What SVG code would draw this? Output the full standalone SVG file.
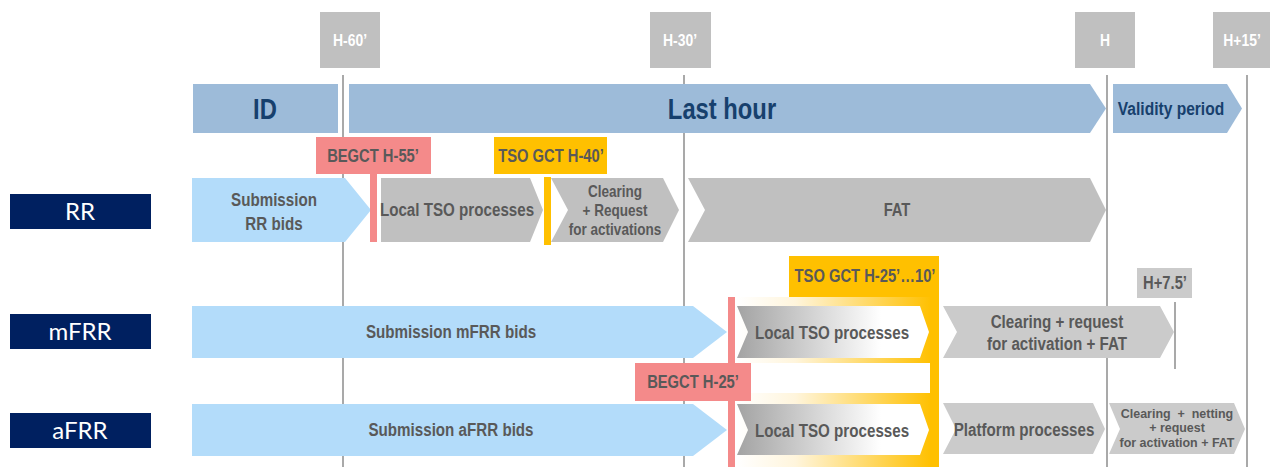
<svg xmlns="http://www.w3.org/2000/svg" width="1280" height="467" viewBox="0 0 1280 467">
<defs>
<style>
.n{font-family:"Liberation Sans",Arial,sans-serif;font-weight:bold;text-anchor:middle}
.g{fill:#595959}
.w{fill:#ffffff}
.b{fill:#17406d}
.tbox{fill:#c0c0c0}
.vline{stroke:#8c8c8c;stroke-width:1.5;fill:none}
.top{fill:#9dbbd9}
.sub{fill:#b3dcfa}
.grey{fill:#c0c0c0}
.grey2{fill:#cbcbcb}
.salmon{fill:#f48a8a}
.orange{fill:#ffc000}
.lab{fill:#002060}
.labt{font-family:Lato,"Noto Sans",sans-serif;font-size:24px;fill:#ffffff;text-anchor:middle}
</style>
<linearGradient id="ltso" x1="0" y1="0" x2="1" y2="0">
<stop offset="0" stop-color="#a3a3a3"/>
<stop offset="0.75" stop-color="#ffffff"/>
<stop offset="1" stop-color="#ffffff"/>
</linearGradient>
<linearGradient id="glow" x1="0" y1="0" x2="1" y2="0">
<stop offset="0" stop-color="#ffffff"/>
<stop offset="0.3" stop-color="#fff5dc"/>
<stop offset="1" stop-color="#ffc000"/>
</linearGradient>
</defs>
<rect width="1280" height="467" fill="#ffffff"/>

<g id="connectors">
<line class="vline" x1="343" y1="75" x2="343" y2="467"/>
<line class="vline" x1="684" y1="75" x2="684" y2="467"/>
<line class="vline" x1="1107" y1="75" x2="1107" y2="467"/>
<line class="vline" x1="1247" y1="75" x2="1247" y2="467"/>
<line class="vline" x1="1175" y1="302" x2="1175" y2="369"/>
</g>

<g id="time-markers">
<g id="t-h60"><rect class="tbox" x="320" y="12" width="60" height="56"/><text class="n w" transform="translate(350 46) scale(0.82 1)" font-size="17">H-60’</text></g>
<g id="t-h30"><rect class="tbox" x="650" y="12" width="61" height="56"/><text class="n w" transform="translate(680 46) scale(0.82 1)" font-size="17">H-30’</text></g>
<g id="t-h"><rect class="tbox" x="1075" y="12" width="60" height="56"/><text class="n w" transform="translate(1105 46) scale(0.82 1)" font-size="17">H</text></g>
<g id="t-h15"><rect class="tbox" x="1213" y="12" width="57" height="56"/><text class="n w" transform="translate(1242 46) scale(0.82 1)" font-size="17">H+15’</text></g>
</g>

<g id="id-bar"><rect class="top" x="193" y="84" width="145" height="49"/><text class="n b" transform="translate(265 119) scale(0.82 1)" font-size="29">ID</text></g>
<g id="last-hour"><polygon class="top" points="349,84 1090,84 1106,108.5 1090,133 349,133"/><text class="n b" transform="translate(722 119) scale(0.82 1)" font-size="29">Last hour</text></g>
<g id="validity"><polygon class="top" points="1113,84 1227,84 1242,108.5 1227,133 1113,133"/><text class="n b" transform="translate(1171 115) scale(0.82 1)" font-size="19">Validity period</text></g>

<g id="label-rr"><rect class="lab" x="10" y="194" width="141" height="35"/><text class="labt" x="80" y="220">RR</text></g>
<g id="label-mfrr"><rect class="lab" x="10" y="314" width="141" height="35"/><text class="labt" x="80" y="340">mFRR</text></g>
<g id="label-afrr"><rect class="lab" x="10" y="413" width="141" height="35"/><text class="labt" x="80" y="439">aFRR</text></g>

<!-- RR row -->
<g id="rr-submission"><polygon class="sub" points="192,178 345,178 371,210 345,242 192,242"/><text class="n g" transform="translate(274 206) scale(0.82 1)" font-size="18.5"><tspan x="0" y="0">Submission</tspan><tspan x="0" y="24">RR bids</tspan></text></g>
<g id="rr-local"><polygon class="grey" points="381,178 530,178 543,210 530,242 381,242"/><text class="n g" transform="translate(457 216) scale(0.82 1)" font-size="18.5">Local TSO processes</text></g>
<g id="rr-clearing"><polygon class="grey" points="551,178 663,178 679,210 663,242 551,242 568,210"/><text class="n g" transform="translate(615 197) scale(0.82 1)" font-size="16.5"><tspan x="0" y="0">Clearing</tspan><tspan x="0" y="19">+ Request</tspan><tspan x="0" y="38">for activations</tspan></text></g>
<g id="rr-fat"><polygon class="grey" points="688,178 1090,178 1106,210 1090,242 688,242 705,210"/><text class="n g" transform="translate(897 216) scale(0.82 1)" font-size="18">FAT</text></g>
<g id="begct-55"><rect class="salmon" x="316" y="137" width="115" height="37"/><rect class="salmon" x="370" y="173" width="7" height="69"/><text class="n g" transform="translate(373 162) scale(0.82 1)" font-size="18">BEGCT H-55’</text></g>
<g id="tsogct-40"><rect class="orange" x="494" y="137" width="113" height="37"/><rect class="orange" x="544" y="177" width="7" height="68"/><text class="n g" transform="translate(551 162) scale(0.82 1)" font-size="18">TSO GCT H-40’</text></g>

<!-- orange GCT area -->
<g id="tsogct-25-10">
<rect x="737" y="297" width="195" height="170" fill="url(#glow)"/>
<rect x="735" y="363" width="197" height="30" fill="#ffffff"/>
<rect class="orange" x="930" y="297" width="9" height="170"/>
<rect class="orange" x="789" y="256" width="150" height="41"/>
<text class="n g" transform="translate(865 282) scale(0.82 1)" font-size="18">TSO GCT H-25’…10’</text>
</g>

<!-- mFRR row -->
<g id="mfrr-submission"><polygon class="sub" points="192,306 693,306 727,332 693,358 192,358"/><text class="n g" transform="translate(451 338) scale(0.82 1)" font-size="18.5">Submission mFRR bids</text></g>
<g id="mfrr-local"><polygon fill="url(#ltso)" points="737,306 920,306 929,332 920,358 737,358 748,332"/><text class="n g" transform="translate(832 339) scale(0.82 1)" font-size="18.5">Local TSO processes</text></g>
<g id="mfrr-clearing"><polygon class="grey2" points="943,306 1160,306 1174,332 1160,358 943,358 957,332"/><text class="n g" transform="translate(1057 328) scale(0.82 1)" font-size="18.5"><tspan x="0" y="0">Clearing + request</tspan><tspan x="0" y="22">for activation + FAT</tspan></text></g>
<g id="h75"><rect class="grey2" x="1137" y="268" width="55" height="30"/><text class="n g" transform="translate(1165 289) scale(0.82 1)" font-size="18">H+7.5’</text></g>

<!-- aFRR row -->
<g id="afrr-submission"><polygon class="sub" points="192,404 693,404 727,430 693,456 192,456"/><text class="n g" transform="translate(451 436) scale(0.82 1)" font-size="18.5">Submission aFRR bids</text></g>
<g id="afrr-local"><polygon fill="url(#ltso)" points="737,404 920,404 929,430 920,455 737,455 748,430"/><text class="n g" transform="translate(832 437) scale(0.82 1)" font-size="18.5">Local TSO processes</text></g>
<g id="afrr-platform"><polygon class="grey2" points="943,403 1093,403 1105,429 1093,454 943,454 956,429"/><text class="n g" transform="translate(1024 436) scale(0.82 1)" font-size="18.5">Platform processes</text></g>
<g id="afrr-clearing"><polygon class="grey2" points="1109,403 1234,403 1245,429 1234,454 1109,454 1120,429"/><text class="n g" transform="translate(1177 418) scale(0.86 0.85)" font-size="14.5"><tspan x="0" y="0">Clearing&#160; +&#160; netting</tspan><tspan x="0" y="17">+ request</tspan><tspan x="0" y="34">for activation + FAT</tspan></text></g>

<g id="begct-25"><rect class="salmon" x="728" y="297" width="7" height="170"/><rect class="salmon" x="635" y="363" width="116" height="38"/><text class="n g" transform="translate(693 388) scale(0.82 1)" font-size="18">BEGCT H-25’</text></g>
</svg>
